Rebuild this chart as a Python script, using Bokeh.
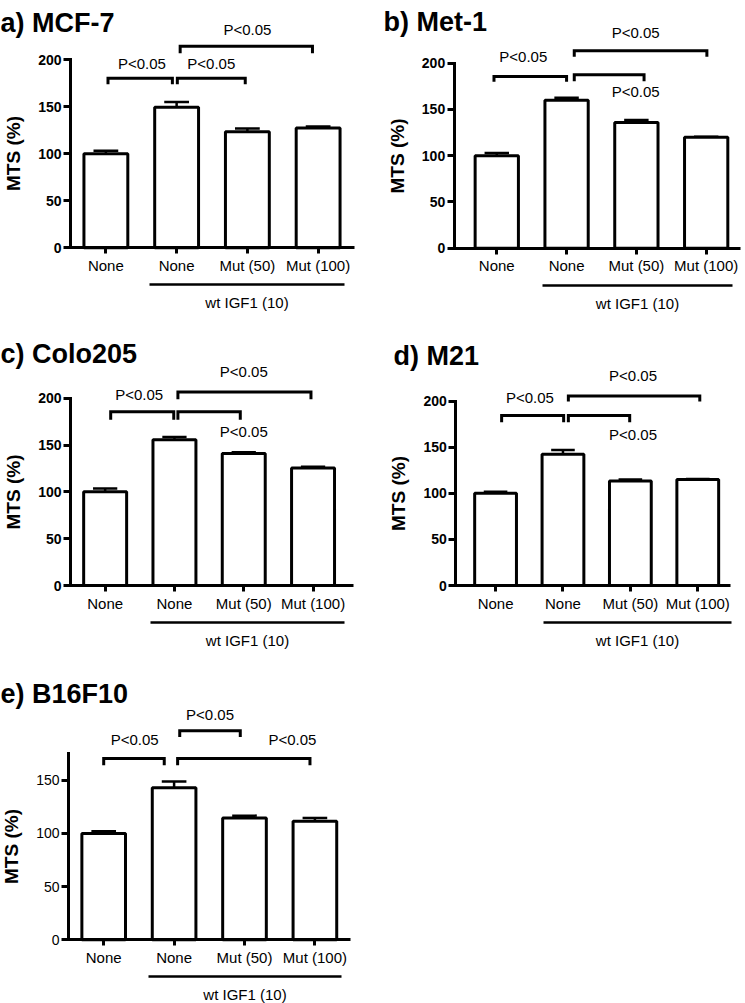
from bokeh.plotting import figure
from bokeh.models import FixedTicker, LinearAxis, Range1d
from bokeh.layouts import column, row
from bokeh.embed import file_html
from bokeh.resources import INLINE
from bokeh.core.properties import value

FONT = "Liberation Sans"

# ---------------- data ----------------
groups = ["None", "None", "Mut (50)", "Mut (100)"]
group_pos = [0.5, 1.5, 2.5, 3.5]
treatment = "wt IGF1 (10)"
y_title = "MTS (%)"
sig_text = "P<0.05"

# a) MCF-7
mcf7_mean = [100, 149.5, 123.5, 127.5]
mcf7_sem = [3.2, 5.5, 3.3, 1.6]
mcf7_br_x0 = [0.53, 1.51, 1.55]
mcf7_br_x1 = [1.44, 2.47, 3.42]
mcf7_br_y = [180.5, 180.5, 214.5]
mcf7_br_leg = [174.0, 174.0, 207.0]
mcf7_p_x = [1.01, 1.99, 2.50]
mcf7_p_y = [196.5, 196.5, 232.0]

# b) Met-1
met1_mean = [100, 160, 136, 120]
met1_sem = [2.8, 2.6, 2.6, 0.6]
met1_br_x0 = [0.46, 1.61, 1.61]
met1_br_x1 = [1.50, 2.61, 3.51]
met1_br_y = [185.5, 187.5, 213.5]
met1_br_leg = [180.0, 180.5, 207.0]
met1_p_x = [0.88, 2.49, 2.49]
met1_p_y = [207.0, 169.5, 233.5]

# c) Colo205
colo_mean = [100, 155.5, 141, 125.5]
colo_sem = [3.6, 3.2, 1.2, 1.3]
colo_br_x0 = [0.58, 1.55, 1.55]
colo_br_x1 = [1.49, 2.45, 3.47]
colo_br_y = [185.5, 185.5, 206.5]
colo_br_leg = [177.0, 177.0, 199.0]
colo_p_x = [0.99, 2.50, 2.50]
colo_p_y = [203.5, 164.5, 228.0]

# d) M21
m21_mean = [100, 142.5, 113.5, 115]
m21_sem = [1.8, 4.4, 1.5, 0.6]
m21_br_x0 = [0.59, 1.58, 1.58]
m21_br_x1 = [1.51, 2.49, 3.53]
m21_br_y = [184.5, 184.5, 205.5]
m21_br_leg = [177.0, 177.0, 199.5]
m21_p_x = [1.01, 2.54, 2.54]
m21_p_y = [204.5, 163.5, 228.0]

# e) B16F10
b16_mean = [100, 143, 114.5, 111.5]
b16_sem = [2.0, 5.8, 2.2, 3.0]
b16_br_x0 = [0.50, 1.58, 1.55]
b16_br_x1 = [1.36, 2.44, 3.43]
b16_br_y = [170.5, 196.5, 170.5]
b16_br_leg = [164.0, 190.5, 164.0]
b16_p_x = [0.94, 2.01, 3.18]
b16_p_y = [188.0, 211.5, 188.0]

yticks_full = [0, 50, 100, 150, 200]
yticks_short = [0, 50, 100, 150]

# ---------------- layout (pixels) ----------------
LAYOUT_A = dict(W=372, H=325, ax_px=70, x_lo=0.0, x_hi=4.01, sx=70.75, ax_py=247.3, sy=0.94,
                title_px=0, title_base=22, ytop=200, yticks=yticks_full, ybold=True,
                ul=(1.11, 3.87), ul_px=37, ul_std=9)
LAYOUT_B = dict(W=373, H=325, ax_px=81.7, x_lo=-0.11, x_hi=3.99, sx=69.8, ax_py=247.7, sy=0.925,
                title_px=11, title_base=21, ytop=200, yticks=yticks_full, ybold=True,
                ul=(1.16, 3.88), ul_px=37, ul_std=9)
LAYOUT_C = dict(W=372, H=335, ax_px=70, x_lo=0.0, x_hi=4.08, sx=69.3, ax_py=260, sy=0.9365,
                title_px=0, title_base=28, ytop=200, yticks=yticks_full, ybold=True,
                ul=(1.16, 3.95), ul_px=37, ul_std=9)
LAYOUT_D = dict(W=373, H=335, ax_px=83.3, x_lo=-0.09, x_hi=3.99, sx=67.4, ax_py=260, sy=0.9217,
                title_px=21, title_base=30, ytop=200, yticks=yticks_full, ybold=True,
                ul=(1.21, 4.0), ul_px=37, ul_std=9)
LAYOUT_E = dict(W=372, H=343, ax_px=68, x_lo=0.0, x_hi=4.0, sx=70.4, ax_py=279.3, sy=1.064,
                title_px=0, title_base=33, ytop=175, yticks=yticks_short, ybold=False,
                ul=(1.13, 3.88), ul_px=37, ul_std=9)


def make_panel(title, mean, sem, br_x0, br_x1, br_y, br_leg, p_x, p_y, L):
    W, H = L["W"], L["H"]
    x0 = L["x_lo"] - L["ax_px"] / L["sx"]
    x1 = x0 + W / L["sx"]
    y1 = L["ax_py"] / L["sy"]
    y0 = y1 - H / L["sy"]
    p = figure(width=W, height=H, x_range=Range1d(x0, x1), y_range=Range1d(y0, y1),
               output_backend="svg", toolbar_location=None, min_border=0, title=None)
    p.outline_line_color = None
    p.xgrid.visible = False
    p.ygrid.visible = False
    p.background_fill_color = "white"
    p.border_fill_color = "white"

    # y axis
    ya = p.yaxis[0]
    ya.fixed_location = L["x_lo"]
    ya.bounds = (0, L["ytop"])
    ya.ticker = FixedTicker(ticks=L["yticks"])
    ya.axis_line_width = 3
    ya.axis_line_cap = "square"
    ya.axis_line_color = "black"
    ya.major_tick_line_width = 3
    ya.major_tick_line_color = "black"
    ya.major_tick_in = 0
    ya.major_tick_out = 7
    ya.minor_tick_line_color = None
    ya.major_label_standoff = 2
    ya.major_label_text_font = FONT
    ya.major_label_text_font_size = "14px"
    ya.major_label_text_font_style = "bold" if L["ybold"] else "normal"
    ya.major_label_text_color = "black"
    ya.axis_label = y_title
    ya.axis_label_text_font = FONT
    ya.axis_label_text_font_size = "19px"
    ya.axis_label_text_font_style = "bold"
    ya.axis_label_text_color = "black"
    ya.axis_label_standoff = 11

    # x axis at y = 0
    xa = p.xaxis[0]
    xa.fixed_location = 0
    xa.bounds = (L["x_lo"], L["x_hi"])
    xa.ticker = FixedTicker(ticks=group_pos)
    xa.major_label_overrides = {pos: lab for pos, lab in zip(group_pos, groups)}
    xa.axis_line_width = 3
    xa.axis_line_color = "black"
    xa.major_tick_line_width = 3
    xa.major_tick_line_color = "black"
    xa.major_tick_in = 0
    xa.major_tick_out = 6
    xa.minor_tick_line_color = None
    xa.major_label_standoff = 3
    xa.major_label_text_font = FONT
    xa.major_label_text_font_size = "15px"
    xa.major_label_text_color = "black"

    # treatment underline axis
    ua = LinearAxis(fixed_location=-L["ul_px"] / L["sy"], bounds=L["ul"],
                    ticker=FixedTicker(ticks=[]),
                    axis_line_width=2.5, axis_line_color="black",
                    major_tick_in=0, major_tick_out=0, minor_tick_in=0, minor_tick_out=0,
                    axis_label=treatment, axis_label_text_font=FONT,
                    axis_label_text_font_size="15px", axis_label_text_font_style="normal",
                    axis_label_text_color="black", axis_label_standoff=L["ul_std"])
    p.add_layout(ua, "below")

    # bars
    p.vbar(x=group_pos, top=mean, bottom=0, width=0.62, fill_color="white",
           line_color="black", line_width=3)

    # error bars (mean + SEM)
    err_top = [m + s for m, s in zip(mean, sem)]
    p.segment(x0=group_pos, y0=mean, x1=group_pos, y1=err_top,
              line_color="black", line_width=2.5)
    p.segment(x0=[x - 0.175 for x in group_pos], y0=err_top,
              x1=[x + 0.175 for x in group_pos], y1=err_top,
              line_color="black", line_width=2.5)

    # significance brackets
    xs = [[a, a, b, b] for a, b in zip(br_x0, br_x1)]
    ys = [[lg, y, y, lg] for y, lg in zip(br_y, br_leg)]
    p.multi_line(xs=xs, ys=ys, line_color="black", line_width=3, line_join="miter")
    p.text(x=p_x, y=p_y, text=[sig_text] * len(p_x), text_font=value(FONT),
           text_font_size="15px", text_align="center", text_baseline="middle",
           text_color="black")

    # panel title
    p.text(x=[x0 + L["title_px"] / L["sx"]], y=[y1 - L["title_base"] / L["sy"]],
           text=[title], text_font=value(FONT), text_font_size="27px",
           text_font_style="bold", text_align="left", text_baseline="alphabetic",
           text_color="black")
    return p


pa = make_panel("a) MCF-7", mcf7_mean, mcf7_sem, mcf7_br_x0, mcf7_br_x1, mcf7_br_y,
                mcf7_br_leg, mcf7_p_x, mcf7_p_y, LAYOUT_A)
pb = make_panel("b) Met-1", met1_mean, met1_sem, met1_br_x0, met1_br_x1, met1_br_y,
                met1_br_leg, met1_p_x, met1_p_y, LAYOUT_B)
pc = make_panel("c) Colo205", colo_mean, colo_sem, colo_br_x0, colo_br_x1, colo_br_y,
                colo_br_leg, colo_p_x, colo_p_y, LAYOUT_C)
pd = make_panel("d) M21", m21_mean, m21_sem, m21_br_x0, m21_br_x1, m21_br_y,
                m21_br_leg, m21_p_x, m21_p_y, LAYOUT_D)
pe = make_panel("e) B16F10", b16_mean, b16_sem, b16_br_x0, b16_br_x1, b16_br_y,
                b16_br_leg, b16_p_x, b16_p_y, LAYOUT_E)

layout = column(row(pa, pb), row(pc, pd), pe)

open("out.html", "w").write(file_html(layout, INLINE))
